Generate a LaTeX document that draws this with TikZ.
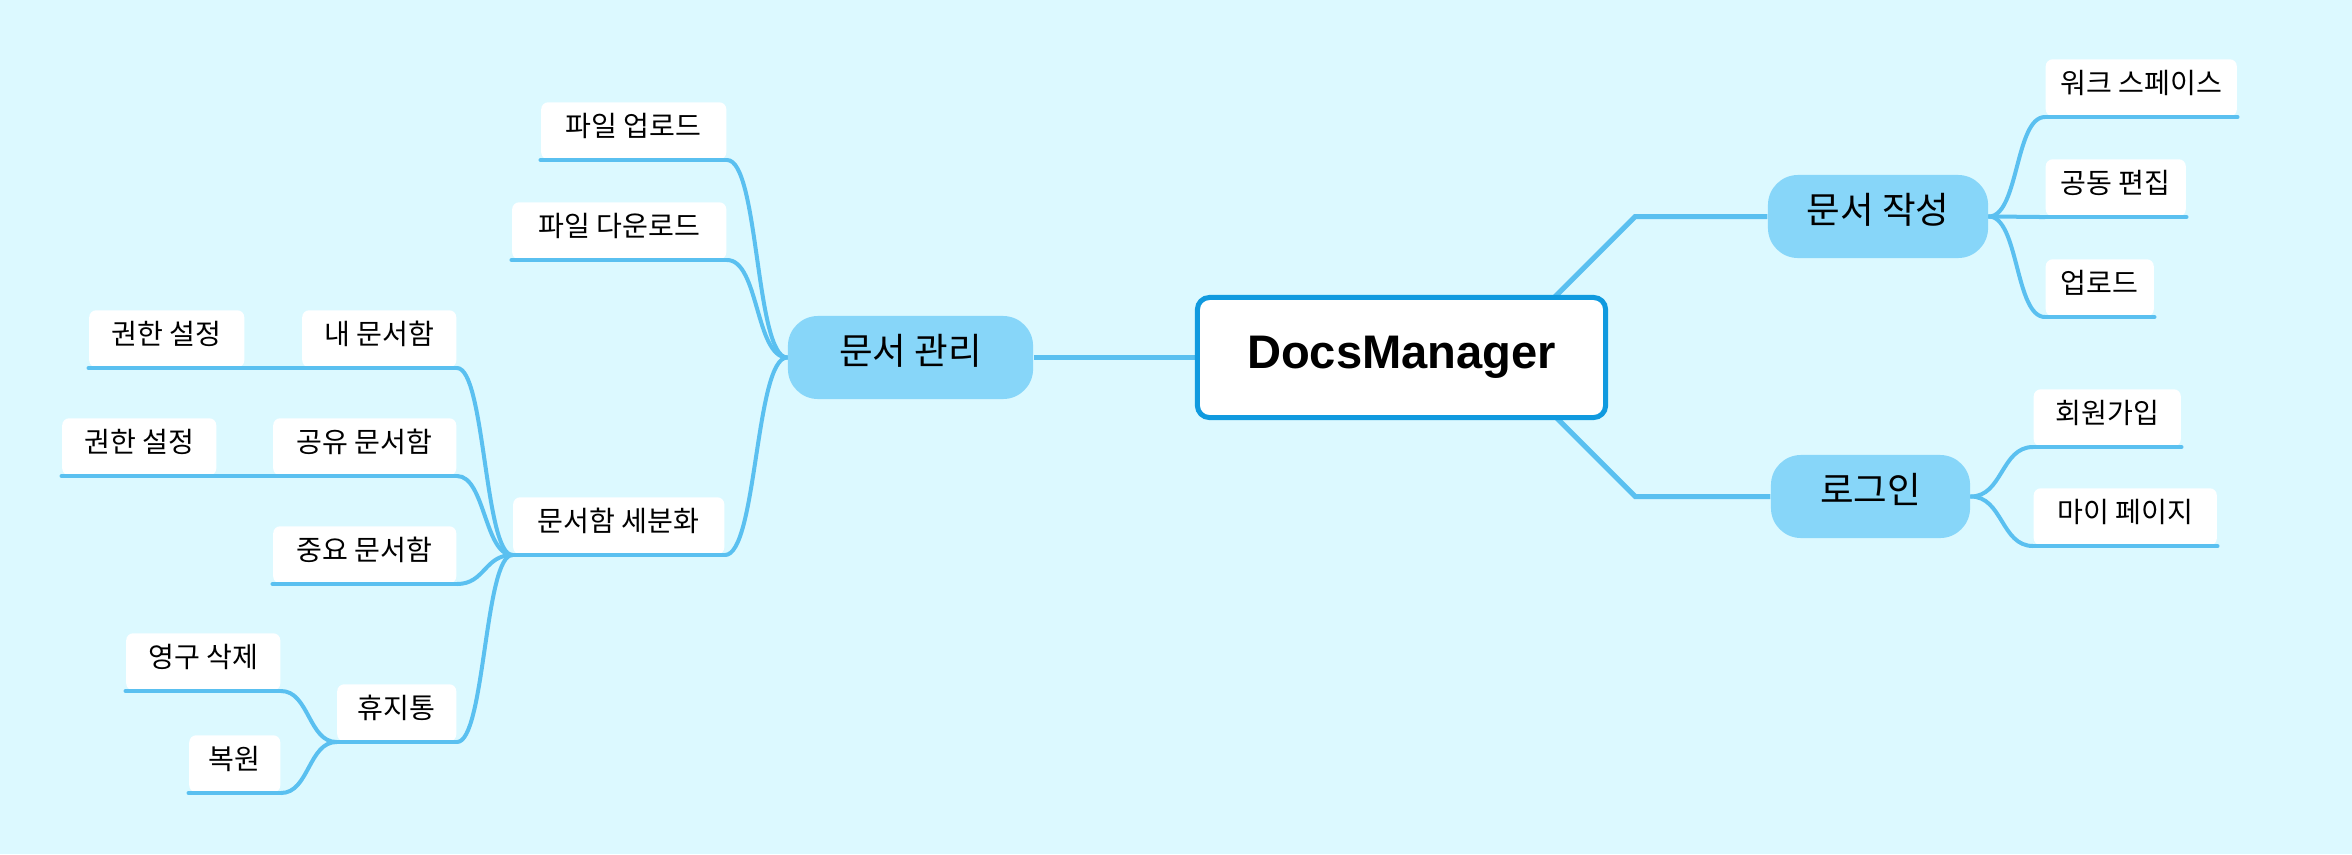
\documentclass[tikz,border=0pt]{standalone}
\usepackage{fontspec}
\setmainfont{Noto Sans CJK KR}
\newfontfamily\rootfamily{Liberation Sans}
\pgfdeclarelayer{links}
\pgfsetlayers{links,main}
\definecolor{bgcyan}{RGB}{220,249,255}
\definecolor{branchblue}{RGB}{90,192,240}
\definecolor{topicblue}{RGB}{135,214,249}
\definecolor{rootblue}{RGB}{16,154,223}
\tikzset{
  rootbox/.style={draw=rootblue, line width=0.05cm, fill=white, rounded corners=0.12cm,
    minimum width=4.08cm, minimum height=1.2cm, inner sep=0pt,
    font=\rootfamily\bfseries\fontsize{13.4}{16}\selectfont},
  topicbox/.style={fill=topicblue, rounded corners=0.3cm, minimum height=0.83cm,
    inner sep=0pt, text height=0.3cm, text depth=0.16cm,
    font=\fontsize{10.4}{12}\selectfont},
  leafbox/.style={fill=white, rounded corners=0.07cm, minimum height=0.57cm,
    inner sep=0pt, text height=0.22cm, text depth=0.1cm,
    font=\fontsize{8}{9.5}\selectfont},
  branch/.style={draw=branchblue, line width=0.04cm, line cap=round},
  trunk/.style={draw=branchblue, line width=0.05cm},
}
\begin{document}
\begin{tikzpicture}[x=0.01cm, y=-0.01cm]
                \useasboundingbox (0,0) rectangle (2352,854);
                \begin{pgfonlayer}{links}
                \fill[bgcyan] (0,0) rectangle (2352,854);
                \end{pgfonlayer}
                
                % Marking root and main topics
                \node[rootbox] (root) at (1401.5,357.5) {DocsManager};
                \node[topicbox, minimum width=2.45cm] (mgmt) at (910.5,357.5) {문서 관리};
                \node[topicbox, minimum width=2.20cm] (write) at (1878,216.5) {문서 작성};
                \node[topicbox, minimum width=1.99cm] (login) at (1870.5,496.5) {로그인};
                
                % Marking leaves of mgmt
                \node[leafbox, anchor=south east, minimum width=1.85cm] (upl) at (727,160) {파일 업로드};
                \node[leafbox, anchor=south east, minimum width=2.14cm] (dnl) at (727,260) {파일 다운로드};
                \node[leafbox, anchor=south east, minimum width=2.11cm] (split) at (725,555) {문서함 세분화};
                
                % Marking leaves of split
                \node[leafbox, anchor=south east, minimum width=1.54cm] (mybox) at (457,368) {내 문서함};
                \node[leafbox, anchor=south east, minimum width=1.55cm] (perma) at (245,368) {권한 설정};
                \node[leafbox, anchor=south east, minimum width=1.83cm] (shared) at (457,476) {공유 문서함};
                \node[leafbox, anchor=south east, minimum width=1.54cm] (permb) at (217,476) {권한 설정};
                \node[leafbox, anchor=south east, minimum width=1.83cm] (imp) at (457,584) {중요 문서함};
                \node[leafbox, anchor=south east, minimum width=1.19cm] (trash) at (457,742) {휴지통};
                \node[leafbox, anchor=south east, minimum width=1.54cm] (purge) at (281,691) {영구 삭제};
                \node[leafbox, anchor=south east, minimum width=0.91cm] (restore) at (281,793) {복원};
                
                % Marking leaves of write and login
                \node[leafbox, anchor=south west, minimum width=1.91cm] (space) at (2045,117) {워크 스페이스};
                \node[leafbox, anchor=south west, minimum width=1.40cm] (coedit) at (2045,217) {공동 편집};
                \node[leafbox, anchor=south west, minimum width=1.08cm] (uplb) at (2045,317) {업로드};
                \node[leafbox, anchor=south west, minimum width=1.47cm] (signup) at (2033,447) {회원가입};
                \node[leafbox, anchor=south west, minimum width=1.83cm] (mypage) at (2033,546) {마이 페이지};
                
                % Drawing underlines
                \foreach \n in {upl,dnl,split,mybox,perma,shared,permb,imp,trash,purge,restore,space,coedit,uplb,signup,mypage}
                  \draw[branch] (\n.south west) -- (\n.south east);
                
                \begin{pgfonlayer}{links}
                % Drawing trunk lines
                \draw[trunk] (mgmt.east) -- (root.west);
                \draw[trunk] (write.west) -- ++(-132,0) -- ++(-85,85);
                \draw[trunk] (login.west) -- ++(-135,0) -- ++(-85,-85);
                
                % Drawing branches of mgmt
                \foreach \n in {upl,dnl,split}
                  \draw[branch] (mgmt.west) .. controls +(-32,0) and +(32,0) .. (\n.south east);
                
                % Drawing branches of split
                \foreach \n in {mybox,shared,imp,trash}
                  \draw[branch] (split.south west) .. controls +(-28,0) and +(28,0) .. (\n.south east);
                \draw[branch] (mybox.south west) -- (perma.south east);
                \draw[branch] (shared.south west) -- (permb.south east);
                
                % Drawing branches of trash
                \foreach \n in {purge,restore}
                  \draw[branch] (trash.south west) .. controls +(-28,0) and +(28,0) .. (\n.south east);
                
                % Drawing branches of write and login
                \foreach \n in {space,coedit,uplb}
                  \draw[branch] (write.east) .. controls +(30,0) and +(-30,0) .. (\n.south west);
                \foreach \n in {signup,mypage}
                  \draw[branch] (login.east) .. controls +(32,0) and +(-32,0) .. (\n.south west);
                \end{pgfonlayer}
\end{tikzpicture}
\end{document}
